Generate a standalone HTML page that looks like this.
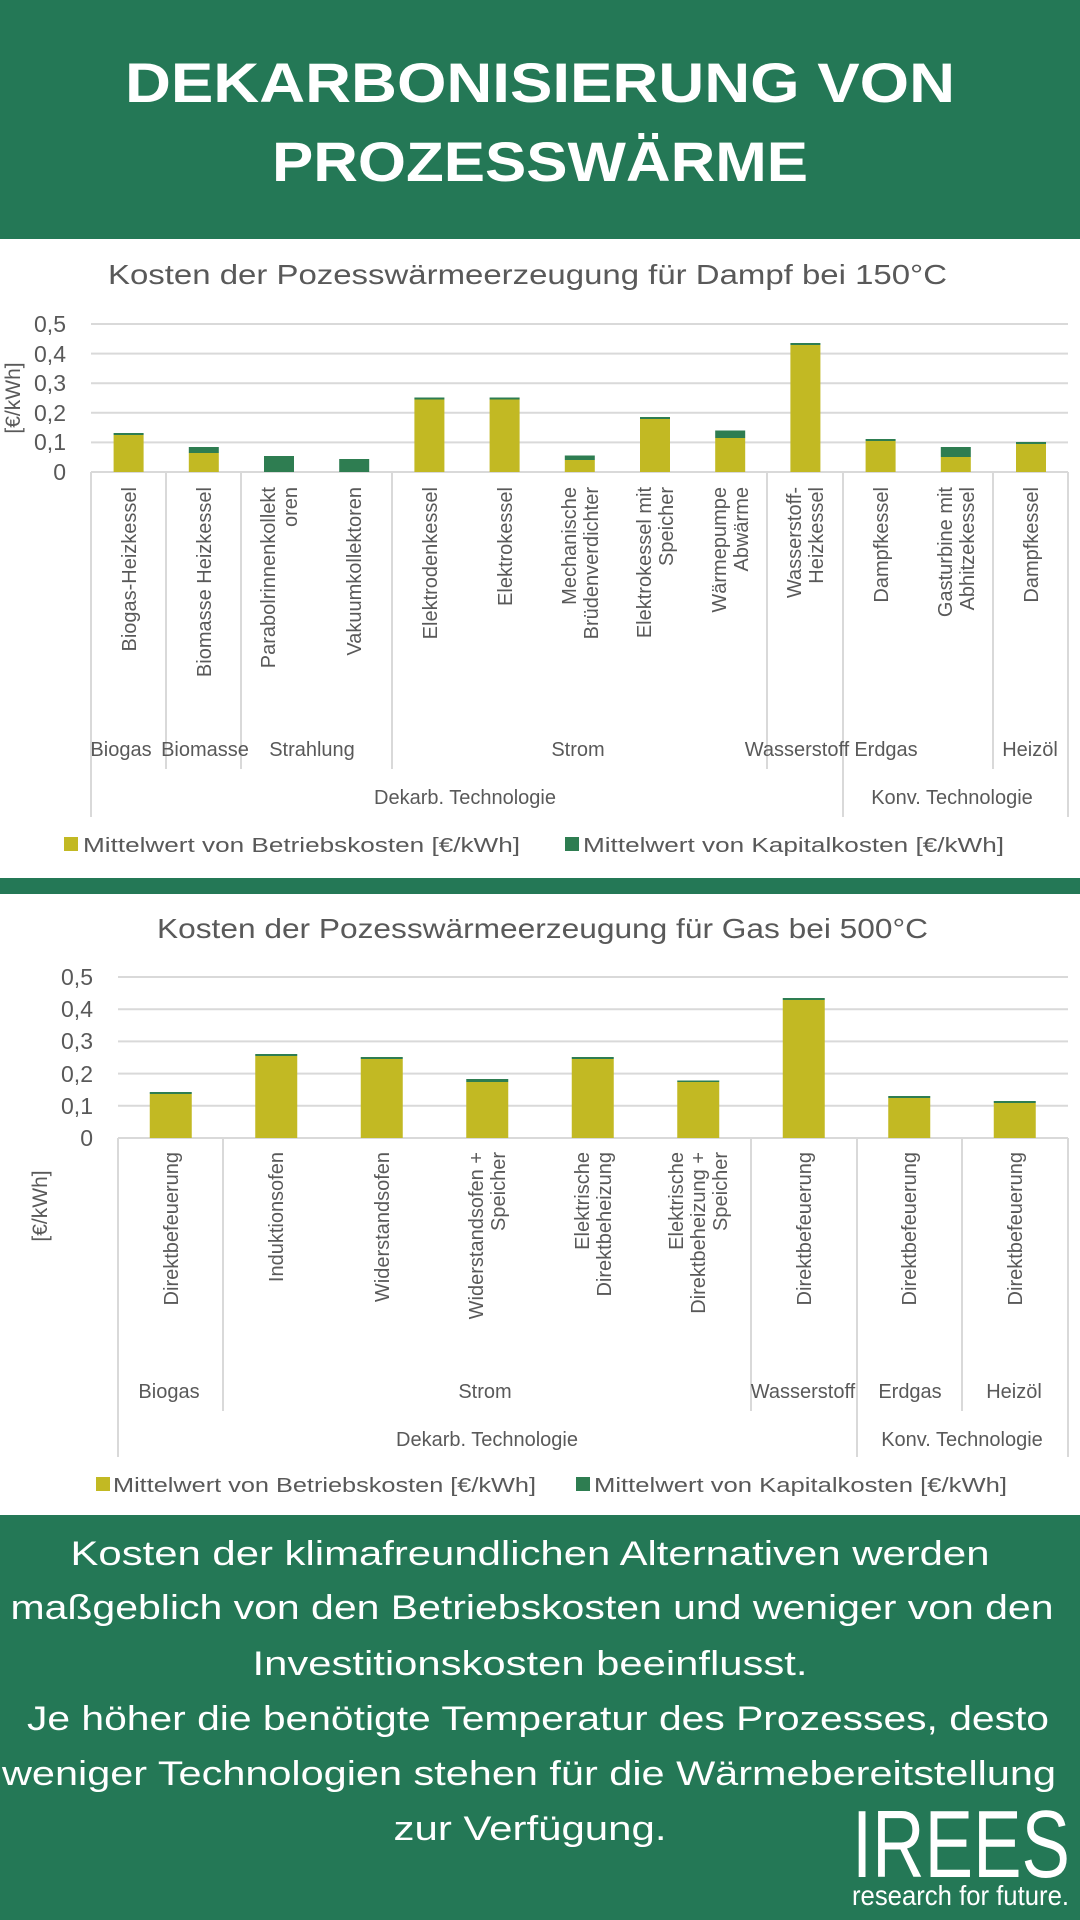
<!DOCTYPE html>
<html><head><meta charset="utf-8"><style>
html,body{margin:0;padding:0;background:#fff;}
svg{display:block;}
.t{font-family:"Liberation Sans",sans-serif;fill:#595959;}
</style></head><body>
<svg width="1080" height="1920" viewBox="0 0 1080 1920" xmlns="http://www.w3.org/2000/svg">
<rect x="0" y="0" width="1080" height="239" fill="#247856"/>
<text x="540" y="102" text-anchor="middle" font-family="Liberation Sans, sans-serif" font-weight="bold" font-size="56" fill="#fff" textLength="830" lengthAdjust="spacingAndGlyphs">DEKARBONISIERUNG VON</text>
<text x="540" y="181" text-anchor="middle" font-family="Liberation Sans, sans-serif" font-weight="bold" font-size="56" fill="#fff" textLength="536" lengthAdjust="spacingAndGlyphs">PROZESSWÄRME</text>

<!-- CHART 1 -->
<text class="t" x="108" y="284" font-size="28" textLength="839" lengthAdjust="spacingAndGlyphs">Kosten der Pozesswärmeerzeugung  für Dampf bei 150°C</text>
<g stroke="#d9d9d9" stroke-width="2">
<line x1="91" y1="442.4" x2="1068" y2="442.4"/><line x1="91" y1="412.8" x2="1068" y2="412.8"/>
<line x1="91" y1="383.2" x2="1068" y2="383.2"/><line x1="91" y1="353.6" x2="1068" y2="353.6"/>
<line x1="91" y1="324" x2="1068" y2="324"/><line x1="91" y1="472" x2="1068" y2="472"/>
<line x1="91" y1="472" x2="91" y2="817"/><line x1="1068" y1="472" x2="1068" y2="817"/>
<line x1="166" y1="472" x2="166" y2="769"/><line x1="241" y1="472" x2="241" y2="769"/>
<line x1="392" y1="472" x2="392" y2="769"/><line x1="767" y1="472" x2="767" y2="769"/>
<line x1="843" y1="472" x2="843" y2="817"/><line x1="993" y1="472" x2="993" y2="769"/>
</g>
<g class="t" font-size="23" text-anchor="end">
<text x="66" y="332">0,5</text><text x="66" y="362">0,4</text><text x="66" y="391">0,3</text>
<text x="66" y="421">0,2</text><text x="66" y="450">0,1</text><text x="66" y="480">0</text>
</g>
<text class="t" font-size="21" text-anchor="middle" transform="translate(20,398) rotate(-90)">[€/kWh]</text>
<g fill="#c2b923">
<rect x="113.6" y="435" width="30" height="37"/><rect x="188.8" y="453" width="30" height="19"/>
<rect x="414.4" y="399.5" width="30" height="72.5"/><rect x="489.6" y="399.5" width="30" height="72.5"/>
<rect x="564.8" y="460" width="30" height="12"/><rect x="640" y="419" width="30" height="53"/>
<rect x="715.2" y="438" width="30" height="34"/><rect x="790.4" y="345" width="30" height="127"/>
<rect x="865.6" y="441" width="30" height="31"/><rect x="940.8" y="457" width="30" height="15"/>
<rect x="1016" y="444" width="30" height="28"/>
</g>
<g fill="#2e7d51">
<rect x="113.6" y="433" width="30" height="2"/><rect x="188.8" y="447" width="30" height="6"/>
<rect x="264" y="456" width="30" height="16"/><rect x="339.2" y="459" width="30" height="13"/>
<rect x="414.4" y="397.5" width="30" height="2"/><rect x="489.6" y="397.5" width="30" height="2"/>
<rect x="564.8" y="455.5" width="30" height="4.5"/><rect x="640" y="417" width="30" height="2"/>
<rect x="715.2" y="430.5" width="30" height="7.5"/><rect x="790.4" y="343" width="30" height="2"/>
<rect x="865.6" y="439" width="30" height="2"/><rect x="940.8" y="447" width="30" height="10"/>
<rect x="1016" y="442" width="30" height="2"/>
</g>
<g class="t" font-size="20" text-anchor="end">
<text transform="translate(136,487) rotate(-90)">Biogas-Heizkessel</text>
<text transform="translate(211,487) rotate(-90)">Biomasse Heizkessel</text>
<text transform="translate(275,487) rotate(-90)">Parabolrinnenkollekt</text>
<text transform="translate(297,487) rotate(-90)">oren</text>
<text transform="translate(361,487) rotate(-90)">Vakuumkollektoren</text>
<text transform="translate(437,487) rotate(-90)">Elektrodenkessel</text>
<text transform="translate(512,487) rotate(-90)">Elektrokessel</text>
<text transform="translate(576,487) rotate(-90)">Mechanische</text>
<text transform="translate(598,487) rotate(-90)">Brüdenverdichter</text>
<text transform="translate(651,487) rotate(-90)">Elektrokessel mit</text>
<text transform="translate(673,487) rotate(-90)">Speicher</text>
<text transform="translate(726,487) rotate(-90)">Wärmepumpe</text>
<text transform="translate(748,487) rotate(-90)">Abwärme</text>
<text transform="translate(801,487) rotate(-90)">Wasserstoff-</text>
<text transform="translate(823,487) rotate(-90)">Heizkessel</text>
<text transform="translate(888,487) rotate(-90)">Dampfkessel</text>
<text transform="translate(952,487) rotate(-90)">Gasturbine mit</text>
<text transform="translate(974,487) rotate(-90)">Abhitzekessel</text>
<text transform="translate(1038,487) rotate(-90)">Dampfkessel</text>
</g>
<g class="t" font-size="20" text-anchor="middle">
<text x="121" y="756">Biogas</text><text x="205" y="756">Biomasse</text><text x="312" y="756">Strahlung</text>
<text x="578" y="756">Strom</text><text x="797" y="756">Wasserstoff</text><text x="886" y="756">Erdgas</text>
<text x="1030" y="756">Heizöl</text>
<text x="465" y="804">Dekarb. Technologie</text><text x="952" y="804">Konv. Technologie</text>
</g>
<rect x="64" y="837" width="14" height="14" fill="#c2b923"/>
<text class="t" x="83" y="852" font-size="20" textLength="437" lengthAdjust="spacingAndGlyphs">Mittelwert von Betriebskosten [€/kWh]</text>
<rect x="565" y="837" width="14" height="14" fill="#2e7d51"/>
<text class="t" x="583" y="852" font-size="20" textLength="421" lengthAdjust="spacingAndGlyphs">Mittelwert von Kapitalkosten [€/kWh]</text>

<rect x="0" y="878" width="1080" height="16" fill="#247856"/>

<!-- CHART 2 -->
<text class="t" x="157" y="938" font-size="28" textLength="771" lengthAdjust="spacingAndGlyphs">Kosten der Pozesswärmeerzeugung  für Gas bei 500°C</text>
<g transform="translate(0,-3)">
<g stroke="#d9d9d9" stroke-width="2">
<line x1="118" y1="1108.8" x2="1068" y2="1108.8"/><line x1="118" y1="1076.6" x2="1068" y2="1076.6"/>
<line x1="118" y1="1044.4" x2="1068" y2="1044.4"/><line x1="118" y1="1012.2" x2="1068" y2="1012.2"/>
<line x1="118" y1="980" x2="1068" y2="980"/><line x1="118" y1="1141" x2="1068" y2="1141"/>
<line x1="118" y1="1141" x2="118" y2="1460"/><line x1="1068" y1="1141" x2="1068" y2="1460"/>
<line x1="223" y1="1141" x2="223" y2="1414"/><line x1="751" y1="1141" x2="751" y2="1414"/>
<line x1="857" y1="1141" x2="857" y2="1460"/><line x1="962" y1="1141" x2="962" y2="1414"/>
</g>
<g class="t" font-size="23" text-anchor="end">
<text x="93" y="988">0,5</text><text x="93" y="1020">0,4</text><text x="93" y="1052">0,3</text>
<text x="93" y="1085">0,2</text><text x="93" y="1117">0,1</text><text x="93" y="1149">0</text>
</g>
<g fill="#c2b923">
<rect x="149.75" y="1097" width="42" height="44"/><rect x="255.25" y="1059" width="42" height="82"/>
<rect x="360.75" y="1062" width="42" height="79"/><rect x="466.25" y="1085" width="42" height="56"/>
<rect x="571.75" y="1062" width="42" height="79"/><rect x="677.25" y="1085" width="42" height="56"/>
<rect x="782.75" y="1003" width="42" height="138"/><rect x="888.25" y="1101" width="42" height="40"/>
<rect x="993.75" y="1106" width="42" height="35"/>
</g>
<g fill="#2e7d51">
<rect x="149.75" y="1095" width="42" height="2"/><rect x="255.25" y="1057" width="42" height="2"/>
<rect x="360.75" y="1060" width="42" height="2"/><rect x="466.25" y="1082" width="42" height="3"/>
<rect x="571.75" y="1060" width="42" height="2"/><rect x="677.25" y="1083.5" width="42" height="1.5"/>
<rect x="782.75" y="1001" width="42" height="2"/><rect x="888.25" y="1099" width="42" height="2"/>
<rect x="993.75" y="1104" width="42" height="2"/>
</g>
</g>
<text class="t" font-size="21" text-anchor="middle" transform="translate(47,1206) rotate(-90)">[€/kWh]</text>
<g class="t" font-size="20" text-anchor="end">
<text transform="translate(178,1152) rotate(-90)">Direktbefeuerung</text>
<text transform="translate(283,1152) rotate(-90)">Induktionsofen</text>
<text transform="translate(389,1152) rotate(-90)">Widerstandsofen</text>
<text transform="translate(483,1152) rotate(-90)">Widerstandsofen +</text>
<text transform="translate(505,1152) rotate(-90)">Speicher</text>
<text transform="translate(589,1152) rotate(-90)">Elektrische</text>
<text transform="translate(611,1152) rotate(-90)">Direktbeheizung</text>
<text transform="translate(683,1152) rotate(-90)">Elektrische</text>
<text transform="translate(705,1152) rotate(-90)">Direktbeheizung +</text>
<text transform="translate(727,1152) rotate(-90)">Speicher</text>
<text transform="translate(811,1152) rotate(-90)">Direktbefeuerung</text>
<text transform="translate(916,1152) rotate(-90)">Direktbefeuerung</text>
<text transform="translate(1022,1152) rotate(-90)">Direktbefeuerung</text>
</g>
<g class="t" font-size="20" text-anchor="middle">
<text x="169" y="1398">Biogas</text><text x="485" y="1398">Strom</text><text x="803" y="1398">Wasserstoff</text>
<text x="910" y="1398">Erdgas</text><text x="1014" y="1398">Heizöl</text>
<text x="487" y="1446">Dekarb. Technologie</text><text x="962" y="1446">Konv. Technologie</text>
</g>
<rect x="96" y="1477" width="14" height="14" fill="#c2b923"/>
<text class="t" x="113" y="1492" font-size="20" textLength="423" lengthAdjust="spacingAndGlyphs">Mittelwert von Betriebskosten [€/kWh]</text>
<rect x="576" y="1477" width="14" height="14" fill="#2e7d51"/>
<text class="t" x="594" y="1492" font-size="20" textLength="413" lengthAdjust="spacingAndGlyphs">Mittelwert von Kapitalkosten [€/kWh]</text>

<!-- BOTTOM -->
<rect x="0" y="1515" width="1080" height="405" fill="#247856"/>
<g font-family="Liberation Sans, sans-serif" font-size="34" fill="#fff" text-anchor="middle">
<text x="530" y="1565" textLength="919" lengthAdjust="spacingAndGlyphs">Kosten der klimafreundlichen Alternativen werden</text>
<text x="532" y="1619" textLength="1043" lengthAdjust="spacingAndGlyphs">maßgeblich von den Betriebskosten und weniger von den</text>
<text x="530" y="1675" textLength="555" lengthAdjust="spacingAndGlyphs">Investitionskosten beeinflusst.</text>
<text x="538" y="1730" textLength="1022" lengthAdjust="spacingAndGlyphs">Je höher die benötigte Temperatur des Prozesses, desto</text>
<text x="529" y="1785" textLength="1054" lengthAdjust="spacingAndGlyphs">weniger Technologien stehen für die Wärmebereitstellung</text>
<text x="530" y="1840" textLength="273" lengthAdjust="spacingAndGlyphs">zur Verfügung.</text>
</g>
<text x="852" y="1877" font-family="Liberation Sans, sans-serif" font-size="96" fill="#fff" textLength="218" lengthAdjust="spacingAndGlyphs">IREES</text>
<text x="852" y="1905" font-family="Liberation Sans, sans-serif" font-size="28" fill="#fff" textLength="217" lengthAdjust="spacingAndGlyphs">research for future.</text>
</svg>
</body></html>
